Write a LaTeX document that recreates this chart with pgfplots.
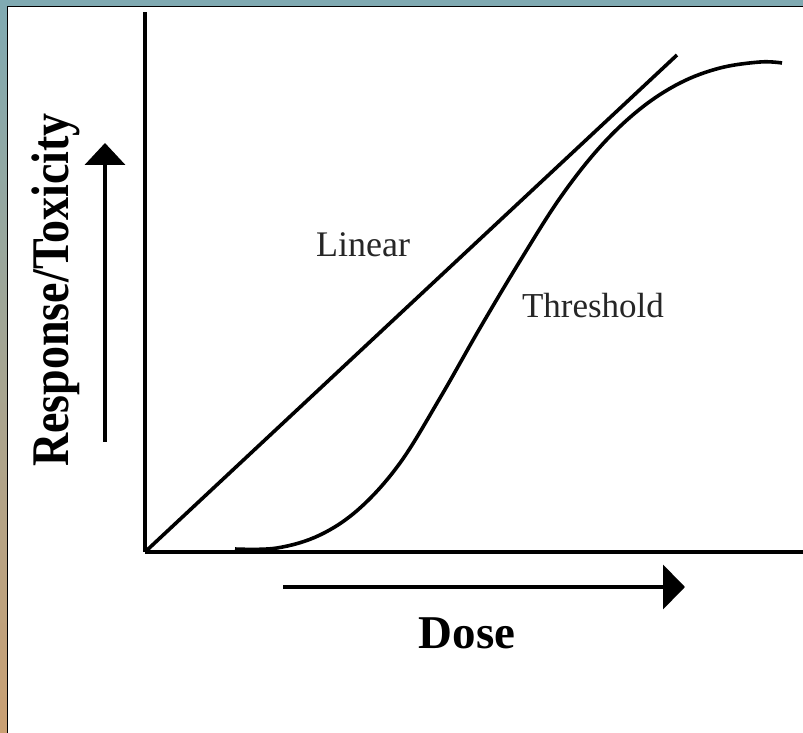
\documentclass[border=0pt]{standalone}
\usepackage{pgfplots}
\pgfplotsset{compat=1.18}
\usepackage{fontspec}
\setmainfont{Liberation Serif}
\usetikzlibrary{arrows.meta}
\definecolor{frameblue}{RGB}{128,170,178}
\definecolor{frametan}{RGB}{202,160,115}
\begin{document}
\begin{tikzpicture}[x=0.5pt,y=0.5pt]
\fill[white] (0,0) rectangle (803,733);
\shade[top color=frameblue,bottom color=frametan] (0,0) rectangle (7,733);
\fill[frameblue] (0,727) rectangle (803,733);
\draw[black,line width=0.8pt] (7.5,0) -- (7.5,726.5) -- (803,726.5);
\begin{axis}[at={(72.5pt,90.5pt)},anchor=south west,
  width=329pt, height=270pt, scale only axis,
  xmin=145, xmax=803, ymin=181, ymax=721,
  axis lines=left, axis line style={-, line width=2.2pt, black},
  xtick=\empty, ytick=\empty, clip=false]
\addplot[black, line width=1.8pt] coordinates {(145,181) (677,678)};
\addplot[black, line width=1.8pt, smooth, tension=0.6] coordinates {
(235,184) (277,185) (320,198) (360,225) (400,270) (440,335) (480,405)
(520,472) (560,535) (600,586) (640,624) (680,650) (720,665) (760,671) (782,670)};
\node[font=\fontsize{18pt}{20pt}\selectfont, text=black!85, inner sep=0pt] at (axis cs:363,488) {Linear};
\node[font=\fontsize{17.5pt}{20pt}\selectfont, text=black!85, inner sep=0pt] at (axis cs:593,427) {Threshold};
\node[font=\fontsize{23.5pt}{26pt}\selectfont\bfseries, inner sep=0pt] at (axis cs:467,100) {Dose};
\node[font=\fontsize{23pt}{26pt}\selectfont\bfseries, inner sep=0pt, rotate=90, anchor=base] at (axis cs:68,443) {\scalebox{1}[1.15]{Response/Toxicity}};
\draw[line width=2pt, -{Triangle[length=11pt,width=20pt]}] (axis cs:105,291) -- (axis cs:105,590);
\draw[line width=2pt, -{Triangle[length=11pt,width=22pt]}] (axis cs:283,146) -- (axis cs:685,146);
\end{axis}
\pgfresetboundingbox
\useasboundingbox (0,0) rectangle (803,733);
\end{tikzpicture}
\end{document}
